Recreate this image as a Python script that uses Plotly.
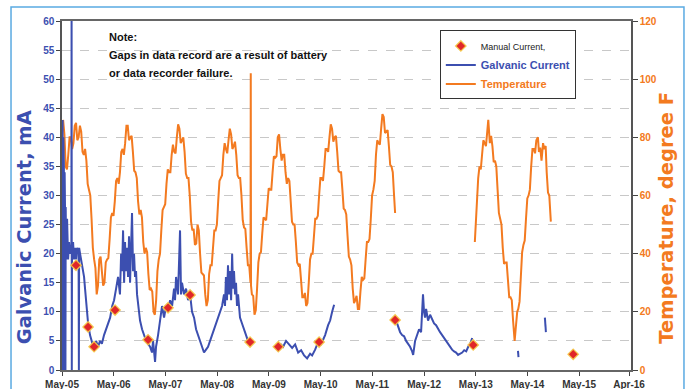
import datetime as dt
import plotly.graph_objects as go

# ---------------- data (decimal years / values) ----------------
temp_year = [
    2005.350, 2005.375, 2005.400, 2005.425, 2005.450, 2005.475, 2005.500, 2005.525, 2005.550, 2005.575, 2005.600, 2005.625, 2005.650, 2005.675, 2005.700, 2005.725, 2005.750, 2005.775, 2005.800, 2005.825, 2005.850, 2005.875, 2005.900, 2005.925, 2005.950, 2005.975,
    2006.000, 2006.025, 2006.050, 2006.075, 2006.100, 2006.125, 2006.150, 2006.175, 2006.200, 2006.225, 2006.250, 2006.275, 2006.300, 2006.325, 2006.350, 2006.375, 2006.400, 2006.425, 2006.450, 2006.475, 2006.500, 2006.525, 2006.550, 2006.575, 2006.600, 2006.625, 2006.650, 2006.675, 2006.700, 2006.725, 2006.750, 2006.775, 2006.800, 2006.825, 2006.850, 2006.875, 2006.900, 2006.925, 2006.950, 2006.975,
    2007.000, 2007.025, 2007.050, 2007.075, 2007.100, 2007.125, 2007.150, 2007.175, 2007.200, 2007.225, 2007.250, 2007.275, 2007.300, 2007.325, 2007.350, 2007.375, 2007.400, 2007.425, 2007.450, 2007.475, 2007.500, 2007.525, 2007.550, 2007.575, 2007.600, 2007.625, 2007.650, 2007.675, 2007.700, 2007.725, 2007.750, 2007.775, 2007.800, 2007.825, 2007.850, 2007.875, 2007.900, 2007.925, 2007.950, 2007.975,
    2008.000, 2008.025, 2008.050, 2008.075, 2008.100, 2008.125, 2008.150, 2008.175, 2008.200, 2008.225, 2008.250, 2008.275, 2008.300, 2008.325, 2008.350, 2008.375, 2008.400, 2008.425, 2008.450, 2008.475, 2008.500, 2008.525, 2008.550, 2008.575, 2008.600, 2008.625, 2008.650, 2008.675, 2008.700, 2008.725, 2008.750, 2008.775, 2008.800, 2008.825, 2008.850, 2008.875, 2008.900, 2008.925, 2008.950, 2008.975, 2008.980, 2008.985,
    2009.000, 2009.025, 2009.050, 2009.075, 2009.100, 2009.125, 2009.150, 2009.175, 2009.200, 2009.225, 2009.250, 2009.275, 2009.300, 2009.325, 2009.350, 2009.375, 2009.400, 2009.425, 2009.450, 2009.475, 2009.500, 2009.525, 2009.550, 2009.575, 2009.600, 2009.625, 2009.650, 2009.675, 2009.700, 2009.725, 2009.750, 2009.775, 2009.800, 2009.825, 2009.850, 2009.875, 2009.900, 2009.925, 2009.950, 2009.975,
    2010.000, 2010.025, 2010.050, 2010.075, 2010.100, 2010.125, 2010.150, 2010.175, 2010.200, 2010.225, 2010.250, 2010.275, 2010.300, 2010.325, 2010.350, 2010.375, 2010.400, 2010.425, 2010.450, 2010.475, 2010.500, 2010.525, 2010.550, 2010.575, 2010.600, 2010.625, 2010.650, 2010.675, 2010.700, 2010.725, 2010.750, 2010.775, 2010.800, 2010.825, 2010.850, 2010.875, 2010.900, 2010.925, 2010.950, 2010.975,
    2011.000, 2011.025, 2011.050, 2011.075, 2011.100, 2011.125, 2011.150, 2011.175, 2011.200, 2011.225, 2011.250, 2011.275, 2011.300, 2011.325, 2011.350, 2011.375, 2011.400, 2011.425, 2011.450, 2011.475, 2011.500, 2011.525, 2011.550, 2011.575, 2011.600, 2011.625, 2011.650, 2011.675, 2011.700, 2011.725, 2011.750, 2011.770,
    None,
    2013.310, 2013.330, 2013.350, 2013.375, 2013.400, 2013.425, 2013.450, 2013.475, 2013.500, 2013.525, 2013.550, 2013.570, 2013.600, 2013.625, 2013.650, 2013.675, 2013.700, 2013.725, 2013.750, 2013.775, 2013.800, 2013.825, 2013.850, 2013.875, 2013.900, 2013.925, 2013.950, 2013.975,
    2014.000, 2014.025, 2014.050, 2014.080, 2014.100, 2014.130, 2014.150, 2014.175, 2014.200, 2014.225, 2014.250, 2014.275, 2014.300, 2014.325, 2014.350, 2014.375, 2014.400, 2014.425, 2014.450, 2014.475, 2014.500, 2014.530, 2014.550, 2014.575, 2014.600, 2014.630, 2014.650, 2014.680, 2014.700, 2014.725, 2014.750, 2014.780,
]
temp_value = [
    86, 81, 70, 69, 74, 80, 80, 76, 78, 84, 85, 79, 80, 84, 82, 75, 74, 76, 72, 64, 62, 60, 52, 42, 38, 35,
    26, 29, 38, 39, 34, 29, 30, 37, 38, 38.5, 45, 52.5, 54, 53, 58, 65, 66, 64, 68, 75, 76, 74, 78, 84, 84, 79, 80, 80.5, 75, 68.5, 68, 66, 58, 53.5, 55, 52.5, 44, 40, 42, 40.5,
    33, 27.5, 28, 27, 20, 19, 24, 34, 38, 40, 48, 55, 56, 57, 64, 69, 68, 68, 74, 77.5, 75, 74.5, 80, 84.5, 83, 78, 79, 80, 75, 67.5, 66, 66, 60, 51, 48, 48.5, 43, 43.5, 50, 48,
    40, 33.5, 33, 32.5, 26, 22, 24, 33, 36, 36, 42, 48, 48, 50, 58, 65, 66, 67, 74, 78, 76, 74.5, 79, 83, 81, 76, 77, 78.5, 74, 67, 66, 66, 60, 51.5, 49, 48.5, 42, 36, 36, 30, 102, 29,
    26, 25.5, 19, 20.5, 28, 37, 40, 40.5, 47, 52.5, 52, 51.5, 57, 62.5, 62, 62, 68, 73.5, 73, 73.5, 80, 81, 76, 72, 74, 74, 68, 64, 66, 65, 58, 51, 50, 50, 44, 37, 36, 36.5, 31, 25,
    25, 26.5, 22, 23, 30, 38, 40, 40, 46, 52, 52, 53, 60, 66, 66, 65, 70, 76, 76, 75, 80, 84.5, 83, 78.5, 80, 80.5, 75, 68.5, 68, 68, 62, 55.5, 55, 53.5, 46, 39, 38, 36, 28, 23,
    24, 25.5, 21, 21, 27, 32, 31, 31.5, 38, 44, 44, 45, 52, 60, 62, 65, 74, 79, 78, 77.5, 83, 88, 87, 81.5, 82, 82.5, 77, 70.5, 70, 68, 60, 54,
    None,
    44, 52, 56, 66, 70, 69, 74, 79, 78, 77, 82, 86, 78, 80.5, 77, 71.5, 72, 70, 62, 54, 52, 50, 42, 36.5, 37, 37, 31, 25,
    25, 24, 17, 10, 14, 20, 21, 23.5, 32, 40.5, 43, 44.5, 52, 59, 60, 62, 70, 76, 76, 74.5, 79, 80, 75, 76.5, 72, 78, 76, 77, 68, 61, 60, 51,
]

galv_year = [
    2005.335, 2005.340, 2005.345, 2005.350, 2005.355, 2005.360, 2005.365, 2005.370, 2005.375, 2005.380,
    2005.385, 2005.390, 2005.395, 2005.400, 2005.410, 2005.427, 2005.446, 2005.465, 2005.485, 2005.510,
    2005.514, 2005.518, 2005.522, 2005.543, 2005.560, 2005.580, 2005.600, 2005.620, 2005.649, 2005.655,
    2005.660, 2005.678, 2005.717, 2005.755, 2005.774, 2005.800, 2005.833, 2005.870, 2005.910, 2005.949,
    2005.988, 2006.026, 2006.065, 2006.100, 2006.142, 2006.180, 2006.220, 2006.260, 2006.300, 2006.336,
    2006.375, 2006.413, 2006.450, 2006.472, 2006.490, 2006.510, 2006.530, 2006.548, 2006.567, 2006.587,
    2006.606, 2006.625, 2006.645, 2006.664, 2006.683, 2006.703, 2006.722, 2006.741, 2006.761, 2006.780,
    2006.800, 2006.838, 2006.877, 2006.916, 2006.955, 2006.993, 2007.032, 2007.070, 2007.090, 2007.129,
    2007.148, 2007.187, 2007.225, 2007.264, 2007.303, 2007.342, 2007.380, 2007.420, 2007.458, 2007.496,
    2007.515, 2007.535, 2007.573, 2007.612, 2007.631, 2007.650, 2007.690, 2007.728, 2007.767, 2007.806,
    2007.844, 2007.883, 2007.922, 2007.960, 2007.999, 2008.038, 2008.076, 2008.115, 2008.154, 2008.193,
    2008.230, 2008.270, 2008.309, 2008.347, 2008.386, 2008.425, 2008.463, 2008.482, 2008.500, 2008.520,
    2008.540, 2008.560, 2008.580, 2008.600, 2008.620, 2008.637, 2008.656, 2008.676, 2008.695, 2008.714,
    2008.734, 2008.772, 2008.811, 2008.850, 2008.888, 2008.927, 2008.966,
    None,
    2009.546, 2009.604, 2009.660, 2009.720, 2009.778, 2009.836, 2009.894, 2009.952, 2010.010, 2010.068,
    2010.126, 2010.165, 2010.223, 2010.281, 2010.320, 2010.377, 2010.416, 2010.474, 2010.513, 2010.552,
    2010.590,
    None,
    2011.790, 2011.828, 2011.867, 2011.905, 2011.944, 2011.983, 2012.020, 2012.060, 2012.100, 2012.120,
    2012.157, 2012.196, 2012.234, 2012.273, 2012.292, 2012.310, 2012.330, 2012.350, 2012.370, 2012.408,
    2012.447, 2012.485, 2012.524, 2012.563, 2012.600, 2012.640, 2012.680, 2012.718, 2012.756, 2012.795,
    2012.834, 2012.872, 2012.911, 2012.950, 2012.988, 2013.027, 2013.066, 2013.104, 2013.143, 2013.182,
    2013.220, 2013.259,
    None,
    2014.145, 2014.155,
    None,
    2014.665, 2014.675, 2014.685,
]
galv_value = [
    30, 43, 0, 20, 40, 16, 35, 0, 22, 34,
    18, 25, 0, 28, 19, 26, 19, 22, 20, 21,
    65, 0, 20, 22, 19, 21, 19, 21, 20, 0,
    21, 20, 18, 16, 14, 11, 8, 6, 4.5, 3.5,
    5, 4, 5, 4.5, 6, 7, 8, 9, 11, 12,
    14, 16, 13, 20, 17, 24, 15, 22, 17, 21,
    16, 23, 15, 22, 27, 17, 20, 16, 17, 13,
    11, 8.5, 7, 6, 5, 4.5, 4, 3, 5, 1.4,
    4, 6, 9, 11, 9, 11, 10.5, 12, 11, 14,
    12, 16, 13, 24, 13, 15, 13, 14, 12, 13,
    10, 9, 7, 6, 5, 4, 3, 3.5, 4, 5,
    6, 7, 8, 9, 10, 11, 13, 11, 16, 12,
    18, 13, 17, 12, 20, 14, 17, 13, 15, 11,
    13, 9, 8, 7, 6, 5, 5,
    None,
    4.5, 4, 5, 4.3, 3.8, 4.4, 3, 3.4, 2.5, 2,
    2.8, 2.5, 3.5, 4.8, 4.2, 5.2, 6, 7.7, 8.5, 10,
    11.2,
    None,
    8.5, 7.5, 6.5, 6, 5.8, 5, 4.5, 4, 3.2, 2.6,
    5, 6, 7, 6.5, 9, 13, 10, 9, 10.5, 8.5,
    9.5, 8.7, 8, 7.7, 7, 6.5, 6, 5.5, 5, 4.5,
    4, 3.5, 3.2, 3, 2.6, 2.8, 3, 3.4, 3.2, 4,
    4.5, 5.5,
    None,
    3.3, 2.2,
    None,
    9, 7.5, 6.5,
]

manual_year = [2005.60, 2005.833, 2005.949, 2006.355, 2006.993, 2007.38, 2007.806,
               2008.966, 2009.51, 2010.30, 2011.77, 2013.278, 2015.213]
manual_value = [18, 7.4, 4, 10.3, 5.2, 10.7, 12.9, 4.8, 4, 4.8, 8.6, 4.3, 2.7]

tick_dates = ["2005-05-01", "2006-05-01", "2007-05-01", "2008-05-01", "2009-05-01", "2010-05-01",
              "2011-05-01", "2012-05-01", "2013-05-01", "2014-05-01", "2015-05-01", "2016-04-17"]
tick_labels = ["May-05", "May-06", "May-07", "May-08", "May-09", "May-10",
               "May-11", "May-12", "May-13", "May-14", "May-15", "Apr-16"]

assert len(temp_year) == len(temp_value)
assert len(galv_year) == len(galv_value)


def to_date(y):
    if y is None:
        return None
    yr = int(y)
    d = dt.datetime(yr, 1, 1) + dt.timedelta(days=(y - yr) * 365.25)
    return d.strftime("%Y-%m-%d %H:%M")


BLUE = "#3c4fb0"
ORANGE = "#f37a20"
RED = "#e0262a"
FONT = "Liberation Sans, Arial, sans-serif"

fig = go.Figure()
fig.add_trace(go.Scatter(
    x=[to_date(v) for v in temp_year], y=temp_value, mode="lines", yaxis="y",
    line=dict(color=ORANGE, width=2), connectgaps=False,
    name='<span style="color:%s;font-weight:bold">Temperature</span>' % ORANGE))
fig.add_trace(go.Scatter(
    x=[to_date(v) for v in galv_year], y=galv_value, mode="lines", yaxis="y2",
    line=dict(color=BLUE, width=2), connectgaps=False,
    name='<span style="color:%s;font-weight:bold">Galvanic Current</span>' % BLUE))
fig.add_trace(go.Scatter(
    x=[to_date(v) for v in manual_year], y=manual_value, mode="markers", yaxis="y2",
    marker=dict(symbol="diamond", size=8, color=RED, line=dict(color="rgba(245,200,70,0.9)", width=1.3)),
    name='<span style="color:#222;font-size:9px">Manual Current,</span>'))

fig.update_layout(
    template="none",
    width=688, height=389,
    margin=dict(l=62, r=57, t=21, b=19, pad=0),
    paper_bgcolor="white", plot_bgcolor="white",
    font=dict(family=FONT, size=11, color="#222"),
    showlegend=True,
    legend=dict(x=0.664, y=0.973, xanchor="left", yanchor="top", bgcolor="white",
                bordercolor="#333", borderwidth=1, traceorder="reversed",
                font=dict(family=FONT, size=11), itemwidth=30, tracegroupgap=0),
    xaxis=dict(type="date", range=["2005-05-01", "2016-05-01"], automargin=False,
               tickvals=tick_dates, ticktext=tick_labels,
               ticks="outside", ticklen=4, tickcolor="#444",
               showline=True, linecolor="#666", linewidth=1.5, mirror=True,
               showgrid=False, zeroline=False,
               tickfont=dict(family=FONT, size=10, color="#333", weight="bold")),
    yaxis=dict(side="right", range=[0, 120], tick0=0, dtick=20, automargin=False,
               ticks="outside", ticklen=5, tickcolor="#444",
               showline=True, linecolor="#555", linewidth=1.5,
               showgrid=False, zeroline=False,
               tickfont=dict(family=FONT, size=10, color=ORANGE, weight="bold")),
    yaxis2=dict(overlaying="y", side="left", range=[0, 60], tick0=0, dtick=5, automargin=False,
                ticks="outside", ticklen=4, tickcolor="#444",
                showline=True, linecolor="#555", linewidth=1.5,
                showgrid=True, gridcolor="#c8c8c8", griddash="dash", gridwidth=1,
                zeroline=False,
                tickfont=dict(family=FONT, size=10, color=BLUE, weight="bold")),
    shapes=[dict(type="rect", xref="paper", yref="paper",
                 x0=-0.0896, x1=1.0931, y0=-0.09, y1=1.040,
                 line=dict(color="#5aaae2", width=1.5), fillcolor="rgba(0,0,0,0)")],
    annotations=[
        dict(text="<b>Galvanic Current, mA</b>", textangle=-90, xref="paper", yref="paper",
             x=-0.066, y=0.41, xanchor="center", yanchor="middle", showarrow=False,
             font=dict(family="DejaVu Sans, sans-serif", size=19.5, color=BLUE)),
        dict(text="<b>Temperature, degree F</b>", textangle=-90, xref="paper", yref="paper",
             x=1.063, y=0.436, xanchor="center", yanchor="middle", showarrow=False,
             font=dict(family="DejaVu Sans, sans-serif", size=19.5, color=ORANGE)),
        dict(text="<b>Note:</b>", xref="paper", yref="paper", x=0.079, y=0.954,
             xanchor="left", yanchor="middle", showarrow=False,
             font=dict(family=FONT, size=11, color="#111")),
        dict(text="<b>Gaps in data record are a result of battery</b>", xref="paper", yref="paper",
             x=0.079, y=0.903, xanchor="left", yanchor="middle", showarrow=False,
             font=dict(family=FONT, size=11, color="#111")),
        dict(text="<b>or data recorder failure.</b>", xref="paper", yref="paper",
             x=0.079, y=0.851, xanchor="left", yanchor="middle", showarrow=False,
             font=dict(family=FONT, size=11, color="#111")),
    ],
)

fig.write_html("out.html", config={"displayModeBar": False},
               post_script="document.body.style.margin='0';document.body.style.padding='0';")
